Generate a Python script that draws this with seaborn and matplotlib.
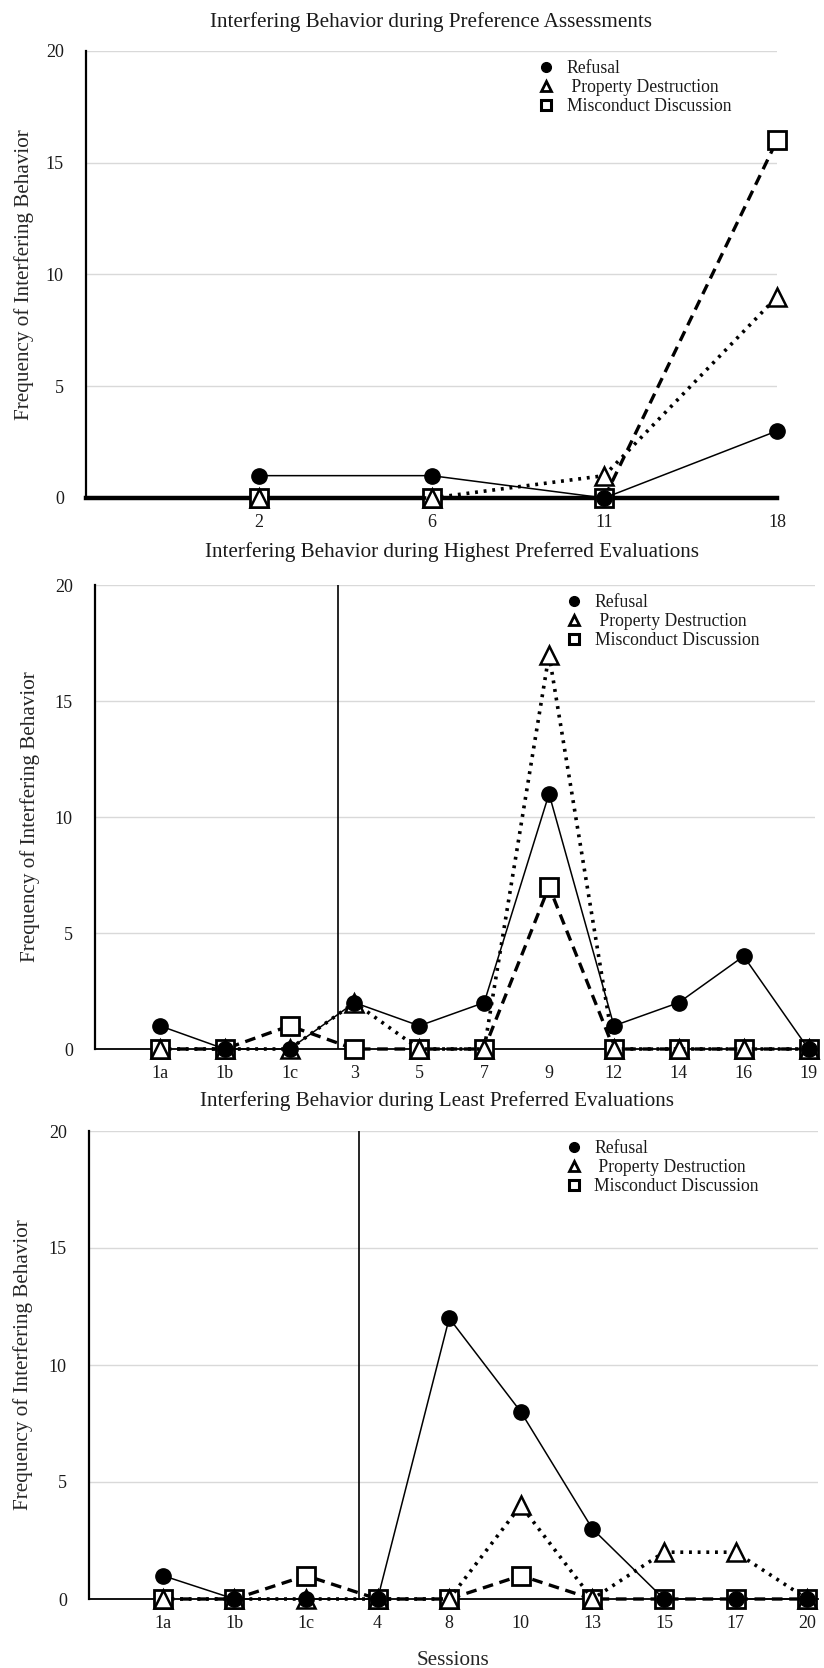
import numpy as np
import pandas as pd
import matplotlib
matplotlib.use("Agg")
import matplotlib.pyplot as plt
from matplotlib.lines import Line2D
import seaborn as sns

sns.set_theme(style="white")
plt.rcParams.update({
    "font.family": ["Liberation Serif", "DejaVu Serif"],
    "text.color": "#1a1a1a",
    "xtick.color": "#1a1a1a",
    "ytick.color": "#1a1a1a",
})

# ── Data ──────────────────────────────────────────────────────────────────────
pa_sessions = ["2", "6", "11", "18"]
pa_refusal = [1, 1, 0, 3]
pa_property = [0, 0, 1, 9]
pa_misconduct = [0, 0, 0, 16]

hp_sessions = ["1a", "1b", "1c", "3", "5", "7", "9", "12", "14", "16", "19"]
hp_refusal = [1, 0, 0, 2, 1, 2, 11, 1, 2, 4, 0]
hp_property = [0, 0, 0, 2, 0, 0, 17, 0, 0, 0, 0]
hp_misconduct = [0, 0, 1, 0, 0, 0, 7, 0, 0, 0, 0]

lp_sessions = ["1a", "1b", "1c", "4", "8", "10", "13", "15", "17", "20"]
lp_refusal = [1, 0, 0, 0, 12, 8, 3, 0, 0, 0]
lp_property = [0, 0, 0, 0, 0, 4, 0, 2, 2, 0]
lp_misconduct = [0, 0, 1, 0, 0, 1, 0, 0, 0, 0]

TITLES = [
    "Interfering Behavior during Preference Assessments",
    "Interfering Behavior during Highest Preferred Evaluations",
    "Interfering Behavior during Least Preferred Evaluations",
]
YLABEL = "Frequency of Interfering Behavior"
LEGEND_LABELS = ["Refusal", " Property Destruction", "Misconduct Discussion"]

# drawn bottom to top: dashed squares, dotted triangles, solid circles
STYLES = {
    "Misconduct Discussion": dict(linestyle=(0, (3.2, 2.0)), lw=2.4, marker="s", ms=12.5,
                                  mfc="white", mec="black", mew=2.0, zorder=3),
    "Property Destruction": dict(linestyle=(0, (0.8, 1.6)), lw=2.6, marker="^", ms=13.5,
                                 mfc="white", mec="black", mew=1.8, zorder=4),
    "Refusal": dict(linestyle="-", lw=1.1, marker="o", ms=11,
                    mfc="black", mec="black", mew=1.0, zorder=5),
}

BIG = 15.2


def draw_panel(ax, sessions, refusal, prop, misc, xlim, phase=None, thick_base=False):
    df = pd.DataFrame({"session": sessions, "Refusal": refusal,
                       "Property Destruction": prop, "Misconduct Discussion": misc})
    for name in ["Misconduct Discussion", "Property Destruction", "Refusal"]:
        st = STYLES[name]
        sns.lineplot(data=df, x="session", y=name, ax=ax, sort=False, estimator=None,
                     color="black", linestyle=st["linestyle"], lw=st["lw"],
                     marker=st["marker"], ms=st["ms"], mfc=st["mfc"], mec=st["mec"],
                     mew=st["mew"], zorder=st["zorder"], clip_on=False)
    if phase is not None:
        ax.axvline(phase, ymin=0, ymax=1, color="black", lw=1.2, zorder=2)
    ax.set_xlim(*xlim)
    ax.set_ylim(0, 20)
    ax.set_yticks([0, 5, 10, 15, 20])
    ax.yaxis.grid(True, color="#d9d9d9", lw=1.0)
    ax.set_axisbelow(True)
    for s in ["top", "right"]:
        ax.spines[s].set_visible(False)
    ax.spines["left"].set_color("black")
    ax.spines["left"].set_linewidth(1.6)
    ax.spines["bottom"].set_color("black")
    ax.spines["bottom"].set_linewidth(3.2 if thick_base else 1.3)
    ax.tick_params(axis="y", direction="out", length=3, width=2, color="black",
                   labelsize=13, pad=13)
    ax.tick_params(axis="x", direction="out", length=3, width=1, color="black",
                   labelsize=13, pad=8.5)
    ax.set_xlabel("")
    ax.set_ylabel(YLABEL, fontsize=BIG, va="center")
    ax.yaxis.set_label_coords(-0.09, 0.5)

    handles = [
        Line2D([], [], ls="none", marker="o", ms=7, mfc="black", mec="black"),
        Line2D([], [], ls="none", marker="^", ms=7.5, mfc="white", mec="black", mew=2.0),
        Line2D([], [], ls="none", marker="s", ms=7, mfc="white", mec="black", mew=2.2),
    ]
    ax.legend(handles, LEGEND_LABELS, loc="upper left", bbox_to_anchor=(0.646, 0.995),
              frameon=False, fontsize=12.7, handlelength=0.8, handletextpad=0.75,
              labelspacing=0.1, borderaxespad=0)


fig = plt.figure(figsize=(8.24, 16.68), dpi=100)
W, H = 824, 1668
ax1 = fig.add_axes([86 / W, 1 - 498 / H, 691 / W, 447 / H])
ax2 = fig.add_axes([95 / W, 1 - 1049 / H, 720 / W, 464 / H])
ax3 = fig.add_axes([89 / W, 1 - 1599 / H, 729 / W, 468 / H])

draw_panel(ax1, pa_sessions, pa_refusal, pa_property, pa_misconduct, (-1.0, 3.0),
           thick_base=True)
draw_panel(ax2, hp_sessions, hp_refusal, hp_property, hp_misconduct, (-1.0, 10.1),
           phase=2.74)
draw_panel(ax3, lp_sessions, lp_refusal, lp_property, lp_misconduct, (-1.03, 9.15),
           phase=2.74)

ax3.set_xlabel("Sessions", fontsize=BIG, labelpad=14)

fig.text(431 / W, 1 - 22 / H, TITLES[0], ha="center", va="center", fontsize=BIG)
fig.text(452 / W, 1 - 552 / H, TITLES[1], ha="center", va="center", fontsize=BIG)
fig.text(437 / W, 1 - 1101 / H, TITLES[2], ha="center", va="center", fontsize=BIG)

fig.savefig("out.png", dpi=100, facecolor="white")
